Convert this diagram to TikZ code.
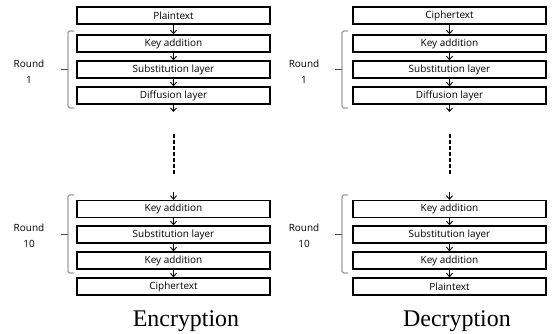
\documentclass[tikz,border=0pt]{standalone}
\usepackage{fontspec}
\setmainfont{Liberation Serif}
\newfontfamily\boxfont{Open Sans}
\usetikzlibrary{arrows.meta}
\begin{document}
\begin{tikzpicture}[x=1bp,y=-1bp,
  blk/.style={draw, line width=1.3bp, minimum width=193bp, minimum height=17bp, inner sep=0pt, font=\boxfont\fontsize{10}{11}\selectfont},
  arr/.style={-{Straight Barb[length=3.5bp,width=6bp]}, line width=0.9bp},
  brc/.style={line width=0.6bp, draw=black!70, rounded corners=1.5bp},
  rlab/.style={align=center, font=\boxfont\fontsize{10}{16}\selectfont},
  caplab/.style={font=\fontsize{24}{28}\selectfont},
  dots/.style={line width=2bp, dash pattern=on 4bp off 2bp}]
\useasboundingbox (0,0) rectangle (552,333);
% ---------- Encryption ----------
\begin{scope}
\node[blk] (e0) at (173.5,15.5) {Plaintext};
\node[blk] (e1) at (173.5,43.5) {Key addition};
\node[blk] (e2) at (173.5,69.5) {Substitution layer};
\node[blk] (e3) at (173.5,95.5) {Diffusion layer};
\coordinate (e3o) at (173.5,112);
\coordinate (ed1) at (173.5,134);
\coordinate (ed2) at (173.5,174);
\coordinate (e4i) at (173.5,192);
\node[blk] (e4) at (173.5,209) {Key addition};
\node[blk] (e5) at (173.5,234.5) {Substitution layer};
\node[blk] (e6) at (173.5,260.5) {Key addition};
\node[blk] (e7) at (173.5,286.5) {Ciphertext};
\draw[arr] (e0) -- (e1);
\draw[arr] (e1) -- (e2);
\draw[arr] (e2) -- (e3);
\draw[arr] (e3) -- (e3o);
\draw[dots] (ed1) -- (ed2);
\draw[arr] (e4i) -- (e4);
\draw[arr] (e4) -- (e5);
\draw[arr] (e5) -- (e6);
\draw[arr] (e6) -- (e7);
\draw[brc] (74,31) -- (68,31) -- (68,108) -- (74,108);
\draw[brc] (68,69.5) -- (61,69.5);
\draw[brc] (74,195) -- (68,195) -- (68,273) -- (74,273);
\draw[brc] (68,234.5) -- (61,234.5);
\node[rlab] (er1) at (29,71.5) {Round\\1};
\node[rlab] (er10) at (29,235.5) {Round\\10};
\node[caplab] (ecap) at (186,321) {Encryption};
\end{scope}
% ---------- Decryption ----------
\begin{scope}
\node[blk] (d0) at (449.5,15.5) {Ciphertext};
\node[blk] (d1) at (449.5,43.5) {Key addition};
\node[blk] (d2) at (449.5,69.5) {Substitution layer};
\node[blk] (d3) at (449.5,95.5) {Diffusion layer};
\coordinate (d3o) at (449.5,112);
\coordinate (dd1) at (449.5,134);
\coordinate (dd2) at (449.5,174);
\coordinate (d4i) at (449.5,192);
\node[blk] (d4) at (449.5,209) {Key addition};
\node[blk] (d5) at (449.5,234.5) {Substitution layer};
\node[blk] (d6) at (449.5,260.5) {Key addition};
\node[blk] (d7) at (449.5,286.5) {Plaintext};
\draw[arr] (d0) -- (d1);
\draw[arr] (d1) -- (d2);
\draw[arr] (d2) -- (d3);
\draw[arr] (d3) -- (d3o);
\draw[dots] (dd1) -- (dd2);
\draw[arr] (d4i) -- (d4);
\draw[arr] (d4) -- (d5);
\draw[arr] (d5) -- (d6);
\draw[arr] (d6) -- (d7);
\draw[brc] (348,31) -- (342,31) -- (342,108) -- (348,108);
\draw[brc] (342,69.5) -- (335,69.5);
\draw[brc] (348,195) -- (342,195) -- (342,273) -- (348,273);
\draw[brc] (342,234.5) -- (335,234.5);
\node[rlab] (dr1) at (304,71.5) {Round\\1};
\node[rlab] (dr10) at (304,235.5) {Round\\10};
\node[caplab] (dcap) at (457,321) {Decryption};
\end{scope}
\end{tikzpicture}
\end{document}
